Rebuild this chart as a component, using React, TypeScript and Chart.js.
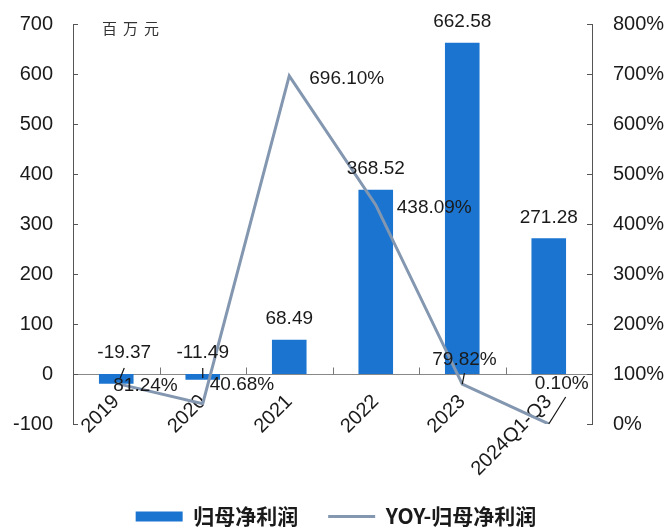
import React, { useEffect, useRef } from 'react';
import { Chart, registerables } from 'chart.js';

Chart.register(...registerables);

// ---- data ----
const categories = ['2019', '2020', '2021', '2022', '2023', '2024Q1-Q3'];
const netProfit = [-19.37, -11.49, 68.49, 368.52, 662.58, 271.28];
const netProfitLabels = ['-19.37', '-11.49', '68.49', '368.52', '662.58', '271.28'];
const yoyPct = [81.24, 40.68, 696.1, 438.09, 79.82, 0.1];
const yoyLabels = ['81.24%', '40.68%', '696.10%', '438.09%', '79.82%', '0.10%'];
const seriesNames = ['归母净利润', 'YOY-归母净利润'];
const unitText = '百万元';
const leftAxis = { min: -100, max: 700, step: 100 };
const rightAxis = { min: 0, max: 800, step: 100 };

// label placement (pixel offsets relative to the mark, not data)
const barLabelDx = [8, 0, 0, 0, 0, 0];
const yoyLabelOffsets: [number, number, boolean][] = [
  [-3, 2, false],
  [7, -19, false],
  [20, 3, false],
  [21, 3, false],
  [-30, -24, true],
  [-14, -40, true],
];

const BAR_COLOR = '#1B75D0';
const LINE_COLOR = '#8497B0';
const TEXT_COLOR = '#1a1a1a';
const NUM_FONT = '"Liberation Sans", Arial, sans-serif';
const CJK_FONT = '"Noto Sans CJK SC", sans-serif';

const annotatePlugin = {
  id: 'annotate',
  afterDraw(chart: any) {
    const { ctx, chartArea, scales } = chart;
    const y = scales.y;
    const y1 = scales.y1;
    const x = scales.x;
    ctx.save();
    // inner tick marks on value axes
    ctx.strokeStyle = '#555';
    ctx.lineWidth = 1;
    ctx.beginPath();
    y.ticks.forEach((t: any) => {
      const py = Math.round(y.getPixelForValue(t.value)) + 0.5;
      ctx.moveTo(chartArea.left, py);
      ctx.lineTo(chartArea.left + 5, py);
    });
    y1.ticks.forEach((t: any) => {
      const py = Math.round(y1.getPixelForValue(t.value)) + 0.5;
      ctx.moveTo(chartArea.right - 5, py);
      ctx.lineTo(chartArea.right, py);
    });
    ctx.stroke();
    // category boundary ticks on the zero line
    const zeroY = Math.round(y.getPixelForValue(0)) + 0.5;
    ctx.strokeStyle = '#777';
    ctx.beginPath();
    for (let i = 0; i < categories.length - 1; i++) {
      const px = Math.round((x.getPixelForValue(i) + x.getPixelForValue(i + 1)) / 2) + 0.5;
      ctx.moveTo(px, zeroY);
      ctx.lineTo(px, zeroY - 7);
    }
    ctx.stroke();
    // unit text
    ctx.fillStyle = '#333';
    ctx.font = `15px ${CJK_FONT}`;
    (ctx as any).letterSpacing = '6px';
    ctx.textAlign = 'left';
    ctx.textBaseline = 'middle';
    ctx.fillText(unitText, chartArea.left + 29, 28);
    (ctx as any).letterSpacing = '0px';
    ctx.restore();
  },
  afterDatasetsDraw(chart: any) {
    const { ctx, scales } = chart;
    const y = scales.y;
    const y1 = scales.y1;
    const x = scales.x;
    const zero = y.getPixelForValue(0);
    ctx.save();
    ctx.font = `19px ${NUM_FONT}`;
    ctx.fillStyle = TEXT_COLOR;
    ctx.textBaseline = 'middle';
    ctx.strokeStyle = '#111';
    ctx.lineWidth = 1.2;
    // bar labels
    ctx.textAlign = 'center';
    netProfit.forEach((v, i) => {
      const bx = x.getPixelForValue(i);
      const cx = bx + barLabelDx[i];
      const top = y.getPixelForValue(Math.max(v, 0));
      ctx.fillText(netProfitLabels[i], cx, top - 21);
      if (v < 0) {
        ctx.beginPath();
        ctx.moveTo(cx, zero - 6);
        ctx.lineTo((cx + bx) / 2, zero + 4);
        ctx.stroke();
      }
    });
    // line labels
    ctx.textAlign = 'left';
    yoyPct.forEach((v, i) => {
      const px = x.getPixelForValue(i);
      const py = y1.getPixelForValue(v);
      const [dx, dy, leader] = yoyLabelOffsets[i];
      const lx = px + dx;
      const ly = py + dy;
      ctx.fillText(yoyLabels[i], lx, ly);
      if (leader) {
        const w = ctx.measureText(yoyLabels[i]).width;
        ctx.beginPath();
        ctx.moveTo(lx + w / 2 + (i === 5 ? 4 : 0), ly + 13);
        ctx.lineTo(px, py);
        ctx.stroke();
      }
    });
    ctx.restore();
  },
};

export default function App() {
  const canvasRef = useRef<HTMLCanvasElement | null>(null);

  useEffect(() => {
    document.body.style.margin = '0';
    const canvas = canvasRef.current;
    if (!canvas) return;
    const chart = new Chart(canvas, {
      type: 'bar',
      data: {
        labels: categories,
        datasets: [
          {
            type: 'bar',
            label: seriesNames[0],
            data: netProfit,
            backgroundColor: BAR_COLOR,
            borderWidth: 0,
            barPercentage: 0.4,
            categoryPercentage: 1,
            yAxisID: 'y',
            order: 1,
          },
          {
            type: 'line',
            label: seriesNames[1],
            data: yoyPct,
            borderColor: LINE_COLOR,
            backgroundColor: LINE_COLOR,
            borderWidth: 3,
            pointRadius: 0,
            tension: 0,
            fill: false,
            yAxisID: 'y1',
            order: 0,
          },
        ] as any,
      },
      options: {
        responsive: false,
        animation: false,
        devicePixelRatio: 1,
        layout: { padding: { top: 24, left: 0, right: 0, bottom: 0 } },
        plugins: {
          tooltip: { enabled: false },
          legend: {
            position: 'bottom',
            maxHeight: 52,
            labels: {
              usePointStyle: true,
              pointStyleWidth: 47,
              boxHeight: 10,
              padding: 30,
              color: TEXT_COLOR,
              font: { family: CJK_FONT, size: 21, weight: 'bold' },
              generateLabels: (c: any) => {
                const items = (Chart.defaults.plugins.legend.labels as any).generateLabels(c);
                return items
                  .sort((a: any, b: any) => a.datasetIndex - b.datasetIndex)
                  .map((it: any) => ({
                    ...it,
                    pointStyle: it.datasetIndex === 0 ? 'rect' : 'line',
                    lineWidth: it.datasetIndex === 0 ? 0 : 3,
                  }));
              },
            },
          } as any,
        },
        scales: {
          x: {
            type: 'category',
            position: { y: 0 } as any,
            offset: true,
            grid: { display: false, drawTicks: false },
            border: { display: true, color: '#888', width: 1 },
            ticks: {
              autoSkip: false,
              minRotation: 45,
              maxRotation: 45,
              padding: 16,
              color: TEXT_COLOR,
              font: { family: NUM_FONT, size: 20 },
            },
          },
          x2: {
            type: 'category',
            position: 'bottom',
            display: true,
            grid: { display: false, drawTicks: false },
            border: { display: false },
            ticks: { display: false },
            afterFit: (s: any) => {
              s.height = 52;
            },
          },
          y: {
            type: 'linear',
            position: 'left',
            min: leftAxis.min,
            max: leftAxis.max,
            grid: { display: false, drawTicks: true, tickLength: 20 },
            border: { display: true, color: '#555', width: 1 },
            ticks: {
              stepSize: leftAxis.step,
              padding: 0,
              color: TEXT_COLOR,
              font: { family: NUM_FONT, size: 20 },
            },
            afterFit: (s: any) => {
              s.width = 73;
            },
          },
          y1: {
            type: 'linear',
            position: 'right',
            min: rightAxis.min,
            max: rightAxis.max,
            grid: { display: false, drawTicks: true, tickLength: 21 },
            border: { display: true, color: '#555', width: 1 },
            ticks: {
              stepSize: rightAxis.step,
              padding: 0,
              color: TEXT_COLOR,
              font: { family: NUM_FONT, size: 20 },
              callback: (v: any) => `${v}%`,
            },
            afterFit: (s: any) => {
              s.width = 80;
            },
          },
        },
      } as any,
      plugins: [annotatePlugin],
    });
    return () => chart.destroy();
  }, []);

  return (
    <div style={{ width: 672, height: 528 }}>
      <canvas ref={canvasRef} width={672} height={528} style={{ display: 'block' }} />
    </div>
  );
}
